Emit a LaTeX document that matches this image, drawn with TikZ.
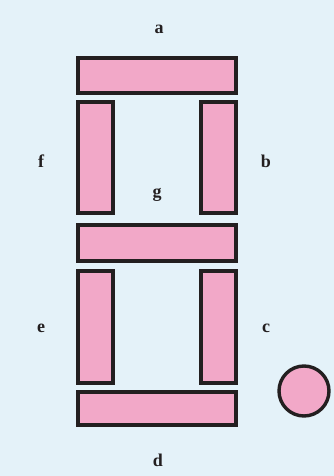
\documentclass[tikz,border=0pt]{standalone}
\usepackage{fontspec}
\setmainfont{Liberation Serif}
\definecolor{bgblue}{HTML}{E4F2F9}
\definecolor{segpink}{HTML}{F2A8C8}
\definecolor{segline}{HTML}{231F20}
\begin{document}
\begin{tikzpicture}[x=1pt,y=-1pt,
  seg/.style={draw=segline,fill=segpink,line width=3.4pt},
  lbl/.style={font=\bfseries\fontsize{18}{20}\selectfont,text=segline,inner sep=0pt}]
\fill[bgblue] (0,0) rectangle (334,476);
\useasboundingbox (0,0) rectangle (334,476);
% segments
\draw[seg] (78,58) rectangle (236,93);   % a
\draw[seg] (201,102) rectangle (236,213); % b
\draw[seg] (201,271) rectangle (236,383); % c
\draw[seg] (78,392) rectangle (236,425);  % d
\draw[seg] (78,271) rectangle (113,383);  % e
\draw[seg] (78,102) rectangle (113,213);  % f
\draw[seg] (78,225) rectangle (236,261);  % g
\draw[seg] (304,391) circle (25);         % dp
% labels
\node[lbl] (la) at (159,29) {a};
\node[lbl] (lb) at (266,161) {b};
\node[lbl] (lc) at (266,328) {c};
\node[lbl] (ld) at (158,460) {d};
\node[lbl] (le) at (41,328) {e};
\node[lbl] (lf) at (41,161) {f};
\node[lbl] (lg) at (157,195) {g};
\end{tikzpicture}
\end{document}
